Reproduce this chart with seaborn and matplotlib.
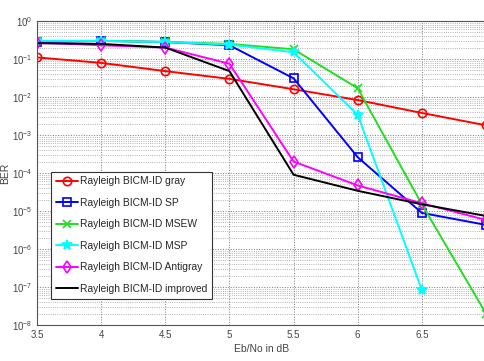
import numpy as np
import pandas as pd
import seaborn as sns
import matplotlib
matplotlib.use("Agg")
import matplotlib.pyplot as plt
from matplotlib.ticker import LogLocator, NullFormatter

ebno = [3.5, 4.0, 4.5, 5.0, 5.5, 6.0, 6.5, 7.0]
ber_gray = [0.11, 0.079, 0.048, 0.030, 0.016, 0.0083, 0.0038, 0.0018]
ber_sp = [0.28, 0.30, 0.28, 0.23, 0.031, 2.6e-4, 8.9e-6, 4.3e-6]
ber_msew = [0.30, 0.30, 0.28, 0.25, 0.18, 0.017, 1.5e-5, 2.0e-8]
ber_msp = [0.30, 0.30, 0.28, 0.24, 0.15, 3.4e-3, 8.3e-8, None]
ber_antigray = [0.27, 0.23, 0.20, 0.075, 2.0e-4, 4.7e-5, 1.6e-5, 5.8e-6]
ber_improved = [0.26, 0.25, 0.20, 0.048, 9.0e-5, 3.4e-5, 1.5e-5, 7.4e-6]

labels = ["Rayleigh BICM-ID gray", "Rayleigh BICM-ID SP", "Rayleigh BICM-ID MSEW",
          "Rayleigh BICM-ID MSP", "Rayleigh BICM-ID Antigray", "Rayleigh BICM-ID improved"]
series = [ber_gray, ber_sp, ber_msew, ber_msp, ber_antigray, ber_improved]

styles = [
    dict(color="#ff0000", marker="o", mfc="none", ms=6),
    dict(color="#0000ff", marker="s", mfc="none", ms=6),
    dict(color="#22dd22", marker="x", mfc="none", ms=6),
    dict(color="#00ffff", marker="*", mfc="#00ffff", ms=7),
    dict(color="#ff00ff", marker="d", mfc="none", ms=6),
    dict(color="#000000", marker=None, mfc="none", ms=0),
]

sns.set_style("white")
plt.rcParams["font.family"] = ["Liberation Sans", "DejaVu Sans"]

fig = plt.figure(figsize=(4.85, 3.61), dpi=100)
ax = fig.add_axes([37 / 485, 1 - 325 / 361, 449 / 485, 304 / 361])

for lab, vals, st in zip(labels, series, styles):
    df = pd.DataFrame({"x": ebno, "y": vals}).dropna()
    kw = dict(marker=st["marker"], markersize=st["ms"], markerfacecolor=st["mfc"],
              markeredgecolor=st["color"], markeredgewidth=1.2) if st["marker"] else {}
    sns.lineplot(data=df, x="x", y="y", ax=ax, color=st["color"], label=lab,
                 linewidth=1.4, **kw)

ax.set_yscale("log")
ax.set_xlim(3.5, 7.0)
ax.set_ylim(1e-8, 1)
ax.set_xticks([3.5, 4, 4.5, 5, 5.5, 6, 6.5])
ax.set_xticklabels(["3.5", "4", "4.5", "5", "5.5", "6", "6.5"])
ax.yaxis.set_major_locator(LogLocator(base=10, numticks=20))
ax.yaxis.set_minor_locator(LogLocator(base=10, subs=np.arange(2, 10), numticks=20))
ax.yaxis.set_minor_formatter(NullFormatter())
ax.tick_params(axis="both", which="both", direction="in", labelsize=7, colors="#444444")
ax.tick_params(which="major", length=4)
ax.tick_params(which="minor", length=2)
ax.xaxis.get_offset_text().set_visible(False)
ax.yaxis.get_offset_text().set_visible(False)

ax.grid(True, which="major", axis="both", linestyle=":", linewidth=0.7, color="#777777")
ax.grid(True, which="minor", axis="y", linestyle=":", linewidth=0.6, color="#999999")
ax.set_axisbelow(True)
for sp in ax.spines.values():
    sp.set_color("#555555")
    sp.set_linewidth(0.8)

ax.set_xlabel("Eb/No in dB", fontsize=7.5, color="#444444", labelpad=3)
ax.set_ylabel("BER", fontsize=7.5, color="#444444", labelpad=1)

leg = ax.legend(loc="lower left", bbox_to_anchor=(0.02, 0.07), fontsize=7.4,
                frameon=True, fancybox=False, framealpha=1, edgecolor="#333333",
                handlelength=2.2, handletextpad=0.15, labelspacing=1.12, borderpad=0.45)
leg.get_frame().set_linewidth(0.8)

fig.savefig("out.png", dpi=100)
